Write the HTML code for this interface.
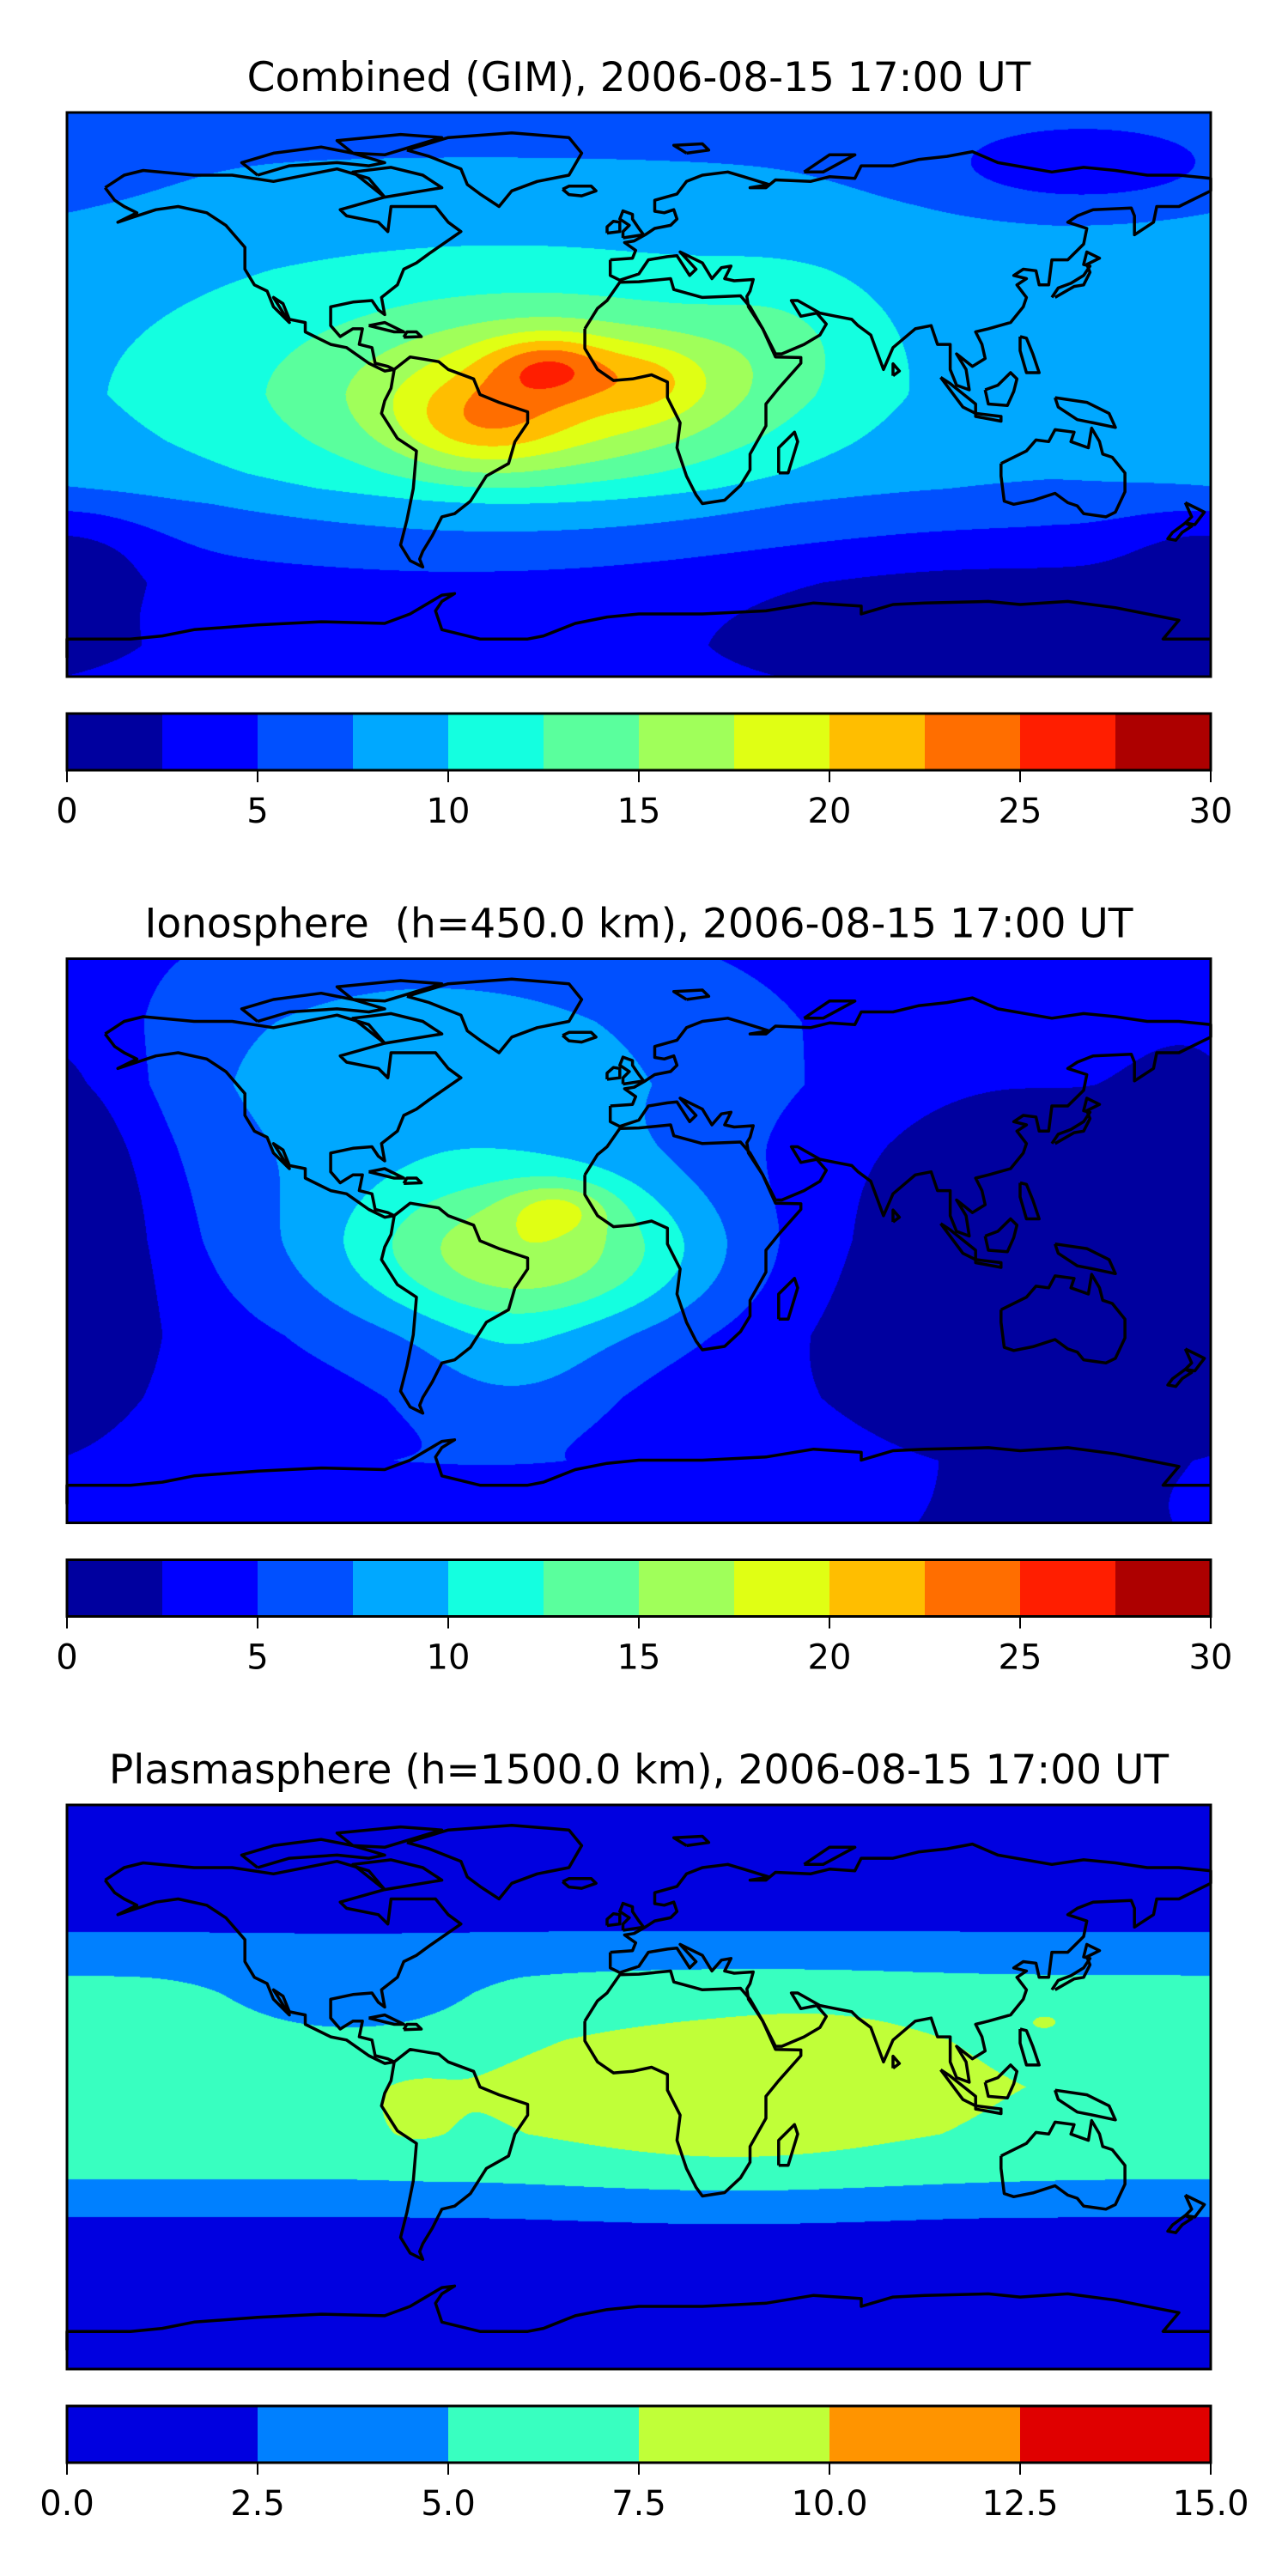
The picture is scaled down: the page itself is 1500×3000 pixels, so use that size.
<!DOCTYPE html>
<html><head><meta charset="utf-8"><style>
html,body{margin:0;padding:0;background:#fff}
#root{position:relative;width:1500px;height:3000px;overflow:hidden;font-family:"DejaVu Sans","Liberation Sans",sans-serif}
canvas{position:absolute}
svg{position:absolute;left:0;top:0}
</style></head><body>
<div id="root"></div>
<script>
// ---- data ----
const titles = ["Combined (GIM), 2006-08-15 17:00 UT","Ionosphere  (h=450.0 km), 2006-08-15 17:00 UT","Plasmasphere (h=1500.0 km), 2006-08-15 17:00 UT"];
const levels1 = [0,2.5,5,7.5,10,12.5,15,17.5,20,22.5,25,27.5,30];
const colors1 = ["#00009f","#0000ff","#0050ff","#00a8ff","#14ffe0","#5aff9d","#a0ff5a","#e0ff14","#ffbe00","#ff6e00","#ff1e00","#ad0000"];
const ticks1 = ["0","5","10","15","20","25","30"];
const levels3 = [0,2.5,5,7.5,10,12.5,15];
const colors3 = ["#0000e0","#0080ff","#38ffc0","#c0ff38","#ff9400","#e00000"];
const ticks3 = ["0.0","2.5","5.0","7.5","10.0","12.5","15.0"];
// base profiles by latitude
const lat1 = [90,70,60,50,40,30,15,0,-15,-25,-30,-35,-45,-60,-80,-90];
const base1 = [6.5,7.5,8,8.3,8.5,8.5,8.5,8.5,8,7.5,7,6,5,3.5,3,3];
const lat2 = [90,70,50,30,0,-30,-50,-70,-90];
const base2 = [5,6,6.5,6,5.5,4.5,4.5,5,4];
const lat3 = [90,60,50,40,35,30,15,0,-15,-25,-30,-35,-42,-50,-90];
const base3 = [1,1.3,2.4,4.3,5.1,5.6,6.8,7.2,6.8,5.7,4.9,3.8,2.4,1.5,1];
// blobs: lon, lat, sigmaLon, sigmaLat, amplitude
const blobs1 = [[-50,-2,78,33,4.5],[-25,0,45,18,7.5],[-28,9,14,7,6],[-50,-10,18,10,4.5],[5,5,12,8,3],[45,20,20,15,2],[110,-70,60,15,-2.5],[140,72,35,10,-4],[-180,-50,20,10,-3]];
const blobs2 = [[-35,-5,40,18,11],[-25,11,12,6,4.5],[-65,50,55,35,3],[-40,-40,20,12,2.5],[120,0,55,60,-5.5],[-180,10,20,45,-4]];
const blobs3 = [[30,-3,45,20,2.4],[60,15,22,9,0.8],[-70,-10,8,8,1],[128,22,8,4,1.2],[-90,25,30,10,-1.8]];
const panels = [
 {lats:lat1,base:base1,blobs:blobs1,levels:levels1,colors:colors1,ticks:ticks1},
 {lats:lat2,base:base2,blobs:blobs2,levels:levels1,colors:colors1,ticks:ticks1},
 {lats:lat3,base:base3,blobs:blobs3,levels:levels3,colors:colors3,ticks:ticks3}];
// coastlines (lon,lat)
const coasts = [
[[-168,66],[-162,70],[-156,71.5],[-140,70],[-128,70],[-115,68],[-95,72],[-85,69],[-80,63],[-94,59],[-92,57],[-82,55],[-79,52],[-78,60],[-70,60],[-64,60],[-60,55],[-56,52],[-66,45],[-70,42],[-74,40],[-76,35],[-81,31],[-80,25.5],[-82,27],[-84,30],[-90,29.5],[-97,28],[-97,22],[-94,18.5],[-90,21],[-87,21],[-88,16],[-84,15],[-83,10],[-79,9],[-77,8],[-80,7.5],[-85,10],[-92,15],[-97,16],[-105,20],[-105,23],[-110,24],[-112,29],[-115,31],[-110,23],[-115,28],[-117,33],[-121,35],[-124,40],[-124,47],[-130,54],[-136,58],[-145,60],[-152,59],[-158,57],[-164,55],[-158,58],[-162,60],[-165,62],[-168,66]],
[[-73,78],[-60,82],[-40,83.5],[-22,82],[-18,77],[-22,70],[-32,68],[-40,65],[-44,60],[-50,64],[-54,67],[-56,72],[-66,76],[-73,78]],
[[-120,70],[-110,73],[-95,74],[-85,73],[-80,74],[-90,77],[-100,79],[-115,77],[-125,74],[-120,70]],
[[-80,63],[-62,66],[-68,70],[-78,72.5],[-90,71],[-80,63]],
[[-90,77],[-80,76.5],[-62,82],[-75,83],[-95,81],[-90,77]],
[[-77,8],[-72,12],[-63,10.5],[-60,8],[-52,5],[-50,0],[-44,-2.5],[-35,-5.5],[-35,-9],[-39,-15],[-41,-22],[-48,-26],[-53,-34],[-58,-38],[-62,-39],[-65,-45],[-68,-50],[-69,-52.5],[-68,-55],[-72,-53],[-75,-48],[-73,-40],[-71,-30],[-70,-18],[-76,-14],[-81,-6],[-80,-2],[-78,2],[-77,8]],
[[-17,21],[-13,27.5],[-10,30],[-6,35.8],[0,36],[10,37],[11,33.5],[20,31],[32,31.5],[35,28],[39,21],[43,12],[51,11.8],[51,10],[44,2],[40,-3],[40,-10],[35,-19],[35,-24],[32,-29],[27,-33.7],[20,-34.8],[18,-32],[15,-26],[12,-17],[13,-9],[9,-1],[9,4],[4,6.3],[-2,5],[-8,4.5],[-13,8],[-17,14.7],[-17,21]],
[[44,-25],[47,-25],[50,-15],[49,-12],[44,-17],[44,-25]],
[[-9,43],[-9,38],[-6,36.5],[0,38.5],[3,43],[9,44],[12,44.3],[16,38],[18,40],[13,45.5],[20,42],[23,37],[26,40.5],[29,41],[27,37],[30,36.3],[36,36.7],[35,33],[34,31.3],[34.5,28],[39,21],[43,13],[45,13],[52,16],[57,19],[59,22.5],[56,26],[51,25],[48,30],[50,30],[57,26],[62,25],[67,24],[69,22],[73,19],[77,8],[80,15],[87,21],[92,22],[94,16],[98,16],[98,8],[100,3],[104,1.5],[103,8],[100,13],[105,9],[109,11.5],[108,16],[106,20],[110,21],[117,23],[121,28],[122,31],[119,35],[122,37],[118,38],[121,40],[125,39.5],[126,35],[129,35],[130,43],[135,43],[140,48],[141,53],[135,55],[138,57],[143,59],[155,59.5],[156,57],[156,51],[162,55],[163,60],[170,60],[180,65],[180,69],[170,70],[160,70],[150,71.5],[140,72.5],[130,71],[113,74],[105,77.5],[97,76],[88,75],[80,73],[70,73],[68,69],[60,69.5],[54,68],[43,68.5],[40,66],[35,66],[41,67],[33,69.5],[28,71],[20,70],[15,68],[12,64],[5,62],[5,58.5],[8,58],[11,59],[12,56],[10,54],[5,53],[2,51],[-1.5,49],[-4.5,48.5],[-1,46],[-2,43.5],[-9,43]],
[[-5,50],[1.5,51],[0,53],[-2,56],[-2,57.5],[-5,58.6],[-6,56],[-3,54],[-5,52],[-5,50]],
[[-10,51.5],[-6,52],[-6,55],[-8,55.3],[-10,53.5],[-10,51.5]],
[[-24,65.5],[-22,66.5],[-15,66.5],[-13.5,65],[-18,63.4],[-22,63.8],[-24,65.5]],
[[130,31],[132,34],[136,35.5],[140,38],[142,41],[140,41.5],[141,45.5],[145,43.5],[141,41.5],[142,39],[140,35],[137,34.5],[131,31]],
[[114,-22],[114,-26],[115,-34],[118,-35],[124,-33.8],[131,-31.5],[135,-34.5],[138,-35.5],[140,-38],[147,-39],[150,-37.5],[153,-31],[153,-25],[149,-20],[146,-19],[145,-15],[142.5,-10.7],[141.5,-17],[136,-15],[137,-12],[131,-11.2],[129,-15],[125,-14.5],[122,-18],[114,-22]],
[[131,-1],[141,-2.5],[148,-6],[150,-10.5],[143,-9],[138,-8],[132,-4],[131,-1]],
[[109,1.5],[113,3],[117,7],[119,5],[118,1],[116,-3.5],[110,-3],[109,1.5]],
[[95,5.5],[98,3.5],[106,-3],[106,-6],[102,-4],[95,5.5]],
[[106,-6],[114,-7],[114,-8.5],[106,-7],[106,-6]],
[[172,-34.5],[178,-37.5],[175,-41.5],[172,-41],[174,-39],[172,-34.5]],
[[172,-41],[174,-42],[171,-44],[169,-46.5],[166.5,-46],[168,-44],[172,-41]],
[[15,77],[22,78],[20,80],[11,79.5],[15,77]],
[[52,71],[58,71],[68,76.5],[60,76.5],[52,71]],
[[-85,22],[-77,20],[-74,20],[-80,23],[-85,22]],
[[-74,18.3],[-68.5,18.5],[-70,20],[-73,20],[-74,18.3]],
[[120,18.5],[122,18],[124,13],[126,7],[122,7],[120,14],[120,18.5]],
[[80,6],[82,7.5],[80,9.8],[80,6]],
[[-180,-84],[-180,-78],[-160,-78],[-150,-77],[-140,-75],[-120,-73.5],[-100,-72.5],[-80,-73],[-72,-70],[-62,-64],[-58,-63.5],[-62,-66],[-64,-69],[-62,-75],[-50,-78],[-35,-78],[-30,-77],[-20,-73],[-10,-71],[0,-70],[20,-70],[40,-69],[55,-66.5],[70,-67.5],[70,-70],[80,-67],[90,-66.5],[110,-66],[120,-67],[135,-66],[150,-68],[165,-71],[170,-72],[165,-78],[180,-78]]
];
// ---- layout ----
const MX=78, MW=1332, MY0=131, MH=657, DY=985.5;
const CBT=43, CBH=66;
function xOf(lon){return MX+(lon+180)/360*MW;}
function yOf(lat,top){return top+(90-lat)/180*MH;}
function interpBase(lats,arr,lat){
  for(let i=0;i<lats.length-1;i++){
    if(lat<=lats[i]&&lat>=lats[i+1]){const t=(lats[i]-lat)/(lats[i]-lats[i+1]);return arr[i]+t*(arr[i+1]-arr[i]);}
  }
  return arr[arr.length-1];
}
function field(p,lon,lat){
  let v=interpBase(p.lats,p.base,lat);
  for(const b of p.blobs){
    let d=lon-b[0]; d=((d+540)%360)-180;
    const e=lat-b[1];
    v+=b[4]*Math.exp(-0.5*(d*d/(b[2]*b[2])+e*e/(b[3]*b[3])));
  }
  return v;
}
function hex(c){return [parseInt(c.slice(1,3),16),parseInt(c.slice(3,5),16),parseInt(c.slice(5,7),16)];}
const root=document.getElementById('root');
const NS='http://www.w3.org/2000/svg';
const svg=document.createElementNS(NS,'svg');
svg.setAttribute('width','1500');svg.setAttribute('height','3000');
const panelNames=['combined','ionosphere','plasmasphere'];
panels.forEach((p,k)=>{
  const top=MY0+k*DY;
  const cv=document.createElement('canvas');
  cv.width=MW;cv.height=MH;
  cv.style.left=MX+'px';cv.style.top=top+'px';
  
  
  root.appendChild(cv);
  const ctx=cv.getContext('2d');
  const img=ctx.createImageData(MW,MH);
  const cols=p.colors.map(hex);
  const n=p.colors.length;
  for(let j=0;j<MH;j++){
    const lat=90-(j+0.5)/MH*180;
    for(let i=0;i<MW;i++){
      const lon=-180+(i+0.5)/MW*360;
      const v=field(p,lon,lat);
      let idx=0;
      for(let L=1;L<p.levels.length;L++){if(v>=p.levels[L])idx=L;}
      if(idx>n-1)idx=n-1;
      const c=cols[idx];const o=(j*MW+i)*4;
      img.data[o]=c[0];img.data[o+1]=c[1];img.data[o+2]=c[2];img.data[o+3]=255;
    }
  }
  ctx.putImageData(img,0,0);
  const g=document.createElementNS(NS,'g');
  
  
  const t=document.createElementNS(NS,'text');
  t.setAttribute('x',MX+MW/2);t.setAttribute('y',top-25);
  t.setAttribute('text-anchor','middle');t.setAttribute('font-size','47');
  t.setAttribute('font-family','DejaVu Sans, Liberation Sans, sans-serif');
  t.setAttribute('xml:space','preserve');t.style.whiteSpace='pre';
  t.textContent=titles[k];
  
  
  g.appendChild(t);
  coasts.forEach((poly)=>{
    const pl=document.createElementNS(NS,'polyline');
    pl.setAttribute('points',poly.map(q=>xOf(q[0]).toFixed(1)+','+yOf(q[1],top).toFixed(1)).join(' '));
    pl.setAttribute('fill','none');pl.setAttribute('stroke','#000');pl.setAttribute('stroke-width','3.5');pl.setAttribute('stroke-linejoin','round');
    
    
    g.appendChild(pl);
  });
  const fr=document.createElementNS(NS,'rect');
  fr.setAttribute('x',MX);fr.setAttribute('y',top);fr.setAttribute('width',MW);fr.setAttribute('height',MH);
  fr.setAttribute('fill','none');fr.setAttribute('stroke','#000');fr.setAttribute('stroke-width','3');
  
  
  g.appendChild(fr);
  const cbTop=top+MH+CBT;
  const vmin=p.levels[0],vmax=p.levels[p.levels.length-1];
  const cx=v=>MX+(v-vmin)/(vmax-vmin)*MW;
  p.colors.forEach((c,i)=>{
    const r=document.createElementNS(NS,'rect');
    r.setAttribute('x',cx(p.levels[i]));r.setAttribute('y',cbTop);
    r.setAttribute('width',cx(p.levels[i+1])-cx(p.levels[i])+0.5);r.setAttribute('height',CBH);
    r.setAttribute('fill',c);
    
    
    g.appendChild(r);
  });
  const cb=document.createElementNS(NS,'rect');
  cb.setAttribute('x',MX);cb.setAttribute('y',cbTop);cb.setAttribute('width',MW);cb.setAttribute('height',CBH);
  cb.setAttribute('fill','none');cb.setAttribute('stroke','#000');cb.setAttribute('stroke-width','3');
  
  
  g.appendChild(cb);
  p.ticks.forEach((lab,i)=>{
    const v=vmin+i*(vmax-vmin)/(p.ticks.length-1);
    const x=cx(v);
    const ln=document.createElementNS(NS,'line');
    ln.setAttribute('x1',x);ln.setAttribute('x2',x);ln.setAttribute('y1',cbTop+CBH);ln.setAttribute('y2',cbTop+CBH+14);
    ln.setAttribute('stroke','#000');ln.setAttribute('stroke-width','2');
    
    
    g.appendChild(ln);
    const tx=document.createElementNS(NS,'text');
    tx.setAttribute('x',x);tx.setAttribute('y',cbTop+CBH+61);
    tx.setAttribute('text-anchor','middle');tx.setAttribute('font-size','40');
    tx.setAttribute('font-family','DejaVu Sans, Liberation Sans, sans-serif');
    tx.textContent=lab;
    
    
    g.appendChild(tx);
  });
  svg.appendChild(g);
});
root.appendChild(svg);
</script>
</body></html>
